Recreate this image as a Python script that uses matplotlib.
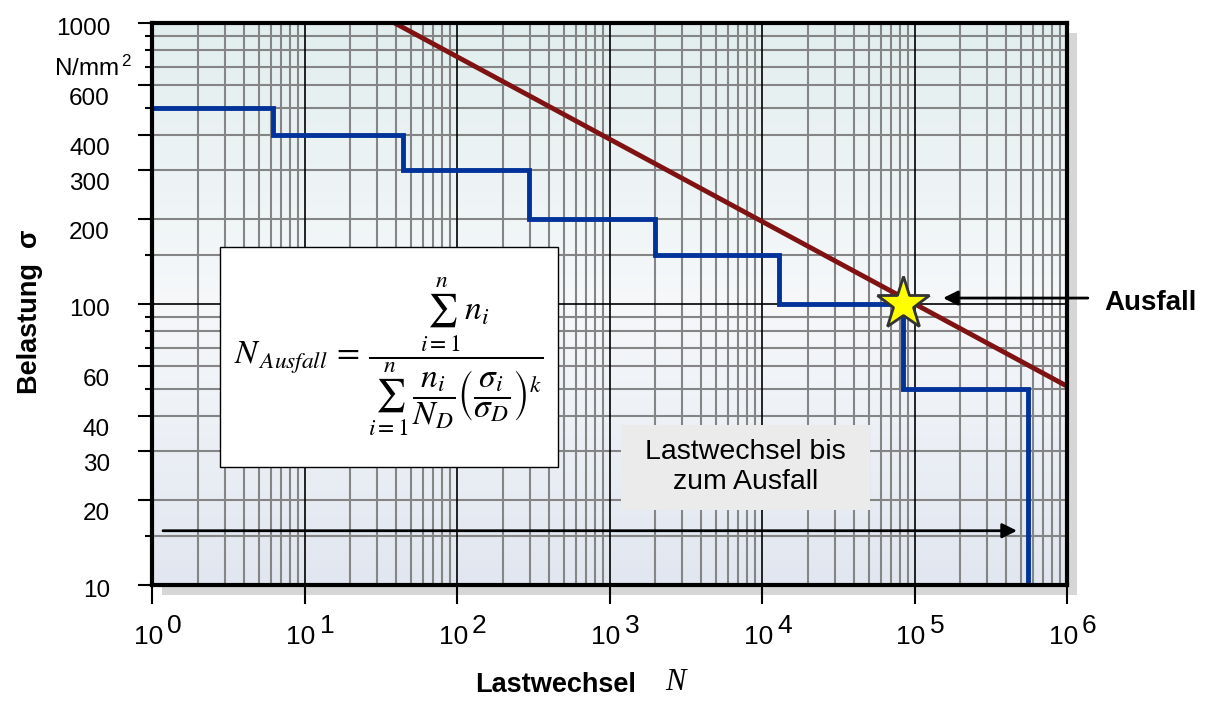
import matplotlib
matplotlib.use("Agg")
import matplotlib.pyplot as plt
import numpy as np
from matplotlib.patches import Rectangle
from matplotlib.colors import LinearSegmentedColormap
from matplotlib.transforms import offset_copy

plt.rcParams['font.family'] = ['Liberation Sans', 'DejaVu Sans']
plt.rcParams['mathtext.fontset'] = 'custom'
plt.rcParams['mathtext.rm'] = 'Liberation Sans'
plt.rcParams['mathtext.it'] = 'Liberation Sans:italic'

# Lastkollektiv (Blockstufen) bis zum Ausfall
stufen_N = [1, 6.2, 44, 297, 1990, 12900, 84000, 555000, 555000]
stufen_sigma = [500, 400, 300, 200, 150, 100, 50, 50, 10]

# Woehlerlinie
woehler_N = [39, 1e6]
woehler_sigma = [1000, 51]

# Ausfallpunkt
ausfall_N = 84000
ausfall_sigma = 100

# Pfeil "Lastwechsel bis zum Ausfall"
pfeil_N = [1.18, 470000]
pfeil_sigma = 15.6

# Pfeil "Ausfall"
ausfall_pfeil_N = [1.37e6, 1.54e5]
ausfall_pfeil_sigma = 105

x_dekaden = [0, 1, 2, 3, 4, 5, 6]
y_major = [10, 20, 30, 40, 60, 100, 200, 300, 400, 600, 1000]
y_minor = [15, 50, 70, 80, 90, 150, 500, 700, 800, 900]
y_grid = [15, 20, 30, 40, 50, 60, 70, 80, 90, 150, 200, 300, 400, 500,
          600, 700, 800, 900]

fig = plt.figure(figsize=(12.09, 7.05), dpi=100)
pos = [152 / 1209, 1 - 585 / 705, 915 / 1209, 562 / 705]

# Schatten hinter dem Diagramm
shadow = Rectangle((pos[0] + 10 / 1209, pos[1] - 10 / 705), pos[2], pos[3],
                   transform=fig.transFigure, facecolor='#d6d6d6',
                   edgecolor='none', zorder=0.5)
fig.add_artist(shadow)

# Verlaufshintergrund
bg = fig.add_axes(pos, zorder=1)
cmap = LinearSegmentedColormap.from_list(
    'bg', ['#e1e6f0', '#f6f8fa', '#e2eeee'])
bg.imshow(np.linspace(0, 1, 256).reshape(-1, 1), cmap=cmap, aspect='auto',
          origin='lower', extent=[0, 1, 0, 1])
bg.axis('off')

ax = fig.add_axes(pos, zorder=2)
ax.patch.set_alpha(0)
ax.set_xscale('log')
ax.set_yscale('log')
ax.set_xlim(1, 1e6)
ax.set_ylim(10, 1000)

# Raster
x_grid = [m * 10 ** d for d in range(6) for m in range(2, 10)]
ax.vlines(x_grid, 10, 1000, color='#858585', lw=1.5, zorder=1)
ax.hlines(y_grid, 1, 1e6, color='#858585', lw=1.5, zorder=1)
ax.vlines([10 ** d for d in x_dekaden[1:-1]], 10, 1000, color='black',
          lw=1.2, zorder=1.1)
ax.hlines([100], 1, 1e6, color='black', lw=1.2, zorder=1.1)

for s in ax.spines.values():
    s.set_linewidth(3)
    s.set_zorder(5)

# Achsenticks
ax.set_xticks([10 ** d for d in x_dekaden])
ax.set_xticks([], minor=True)
ax.set_xticklabels([])
ax.set_yticks(y_major)
ax.set_yticks(y_minor, minor=True)
ax.set_yticklabels([])
ax.set_yticklabels([], minor=True)
ax.tick_params(axis='x', which='major', direction='out', length=14,
               width=1.5)
ax.tick_params(axis='y', which='major', direction='out', length=10,
               width=1.5)
ax.tick_params(axis='y', which='minor', direction='out', length=5,
               width=1.5)

# x-Beschriftung 10^n
for d in x_dekaden:
    t1 = offset_copy(ax.get_xaxis_transform(), fig=fig, x=11, y=-52,
                     units='dots')
    t2 = offset_copy(ax.get_xaxis_transform(), fig=fig, x=15, y=-41,
                     units='dots')
    ax.text(10 ** d, 0, '10', transform=t1, ha='right', va='center',
            fontsize=19)
    ax.text(10 ** d, 0, str(d), transform=t2, ha='left', va='center',
            fontsize=19)

# y-Beschriftung
for v in y_major:
    dy = -6 if v in (10, 100, 1000) else -14
    t = offset_copy(ax.get_yaxis_transform(), fig=fig, x=-42, y=dy,
                    units='dots')
    ax.text(0, v, str(v), transform=t, ha='right', va='center', fontsize=17.5)
t = offset_copy(ax.get_yaxis_transform(), fig=fig, x=-20, y=-18,
                units='dots')
ax.text(0, 800, r'N/mm$^{\,2}$', transform=t, ha='right', va='center',
        fontsize=17.5)

# Kurven
ax.plot(stufen_N, stufen_sigma, drawstyle='steps-post', color='#003399',
        lw=3.5, zorder=3, solid_joinstyle='miter')
ax.plot(woehler_N, woehler_sigma, color='#7f1212', lw=3.5, zorder=3.5)
ax.plot([ausfall_N], [ausfall_sigma], marker='*', markersize=40,
        markerfacecolor='#ffff00', markeredgecolor='#333333',
        markeredgewidth=2, zorder=6, clip_on=False)

# Pfeile
ax.annotate('', xy=(pfeil_N[1], pfeil_sigma), xytext=(pfeil_N[0], pfeil_sigma),
            arrowprops=dict(arrowstyle='-|>', color='black', lw=2,
                            mutation_scale=22, shrinkA=0, shrinkB=0),
            zorder=4)
ax.annotate('', xy=(ausfall_pfeil_N[1], ausfall_pfeil_sigma),
            xytext=(ausfall_pfeil_N[0], ausfall_pfeil_sigma),
            arrowprops=dict(arrowstyle='-|>', color='black', lw=2,
                            mutation_scale=22, shrinkA=0, shrinkB=0),
            annotation_clip=False, zorder=6)
ax.text(1.75e6, 101, 'Ausfall', fontsize=20, fontweight='bold',
        ha='left', va='center', clip_on=False)

# Formelkasten
ax.add_patch(Rectangle((0.0743, 0.21), 0.3694, 0.3915, transform=ax.transAxes,
                       facecolor='white', edgecolor='black', lw=1.0,
                       zorder=4))
formel = (r'$N_{\,Ausfall} \,=\, \dfrac{\sum_{i=1}^{n} \, n_i}'
          r'{\sum_{i=1}^{n} \, \dfrac{n_i}{N_D}'
          r'\left(\dfrac{\sigma_i}{\sigma_D}\right)^k}$')
ax.text(0.0743 + 0.3694 / 2, 0.21 + 0.3915 / 2, formel,
        transform=ax.transAxes, ha='center', va='center', fontsize=24,
        math_fontfamily='stix', zorder=4.5)

# Textkasten
ax.add_patch(Rectangle((0.5126, 0.1335), 0.2721, 0.1512,
                       transform=ax.transAxes, facecolor='#ebebeb',
                       edgecolor='none', zorder=4))
ax.text(0.5126 + 0.2721 / 2, 0.1335 + 0.1512 / 2,
        'Lastwechsel bis\nzum Ausfall', transform=ax.transAxes,
        ha='center', va='center', fontsize=20.5, linespacing=1.2, zorder=4.5)

# Achsentitel
fig.text(30 / 1209, 1 - 312 / 705, 'Belastung  σ', rotation=90,
         fontsize=19.5, fontweight='bold', ha='center', va='center')
fig.text(556 / 1209, 1 - 685 / 705, 'Lastwechsel', fontsize=19.5,
         fontweight='bold', ha='center', va='center')
fig.text(675 / 1209, 1 - 683 / 705, 'N', fontsize=22, style='italic',
         family='Liberation Serif', ha='center', va='center')

fig.savefig('out.png', dpi=100)
